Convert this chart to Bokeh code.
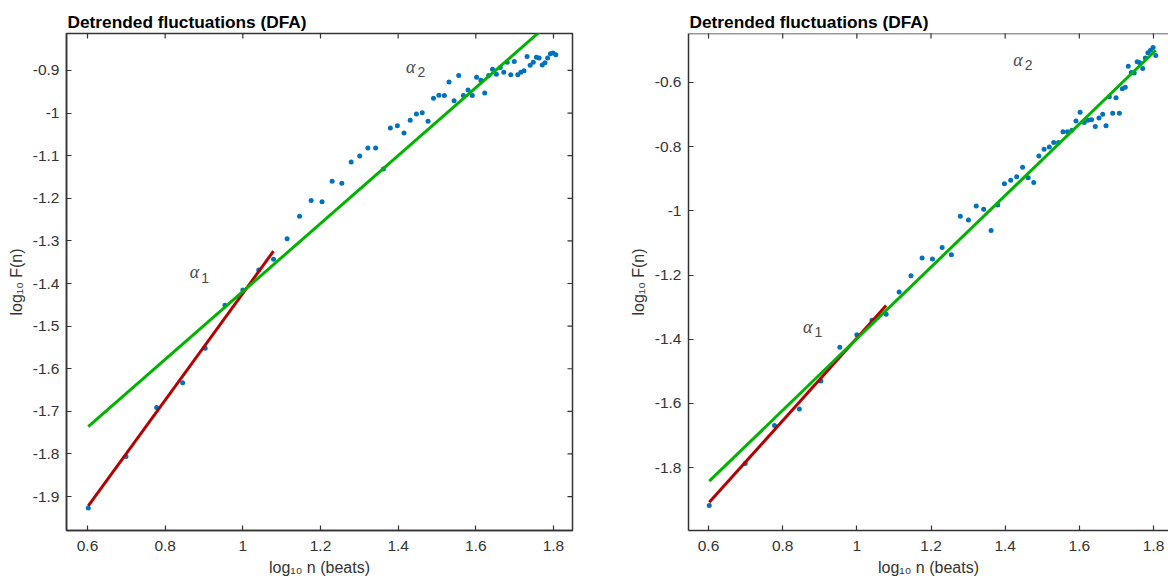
import numpy as np
from bokeh.plotting import figure
from bokeh.layouts import row
from bokeh.models import ColumnDataSource, LinearAxis, FixedTicker, Range1d, Span
from bokeh.core.properties import value
from bokeh.embed import file_html
from bokeh.resources import INLINE

# ---------------- data ----------------
log_n = [0.602, 0.699, 0.778, 0.845, 0.903, 0.954, 1.000, 1.041, 1.079, 1.114,
         1.146, 1.176, 1.204, 1.230, 1.255, 1.279, 1.301, 1.322, 1.342, 1.362,
         1.380, 1.398, 1.415, 1.431, 1.447, 1.462, 1.477, 1.491, 1.505, 1.519,
         1.531, 1.544, 1.556, 1.568, 1.580, 1.591, 1.602, 1.613, 1.623, 1.633,
         1.643, 1.653, 1.663, 1.672, 1.681, 1.690, 1.699, 1.708, 1.716, 1.724,
         1.732, 1.740, 1.748, 1.756, 1.763, 1.771, 1.778, 1.785, 1.792, 1.799,
         1.806]

left_logF = [-1.927, -1.806, -1.691, -1.633, -1.552, -1.451, -1.415, -1.368, -1.343, -1.295,
             -1.242, -1.205, -1.208, -1.160, -1.165, -1.115, -1.101, -1.082, -1.082, -1.131,
             -1.035, -1.030, -1.047, -1.017, -1.002, -0.999, -1.019, -0.965, -0.958, -0.959,
             -0.927, -0.971, -0.912, -0.959, -0.946, -0.959, -0.916, -0.923, -0.953, -0.912,
             -0.897, -0.909, -0.893, -0.904, -0.881, -0.910, -0.879, -0.910, -0.904, -0.901,
             -0.867, -0.888, -0.881, -0.869, -0.871, -0.887, -0.882, -0.871, -0.861, -0.859,
             -0.863]

right_logF = [-1.918, -1.787, -1.669, -1.617, -1.530, -1.425, -1.386, -1.341, -1.322, -1.253,
              -1.202, -1.147, -1.150, -1.114, -1.137, -1.017, -1.029, -0.985, -0.995, -1.061,
              -0.982, -0.916, -0.905, -0.894, -0.864, -0.897, -0.912, -0.829, -0.808, -0.801,
              -0.787, -0.787, -0.754, -0.754, -0.749, -0.720, -0.693, -0.725, -0.718, -0.716,
              -0.737, -0.711, -0.699, -0.735, -0.645, -0.696, -0.648, -0.696, -0.620, -0.615,
              -0.550, -0.569, -0.571, -0.536, -0.539, -0.557, -0.524, -0.508, -0.500, -0.491,
              -0.516]

# fitted lines (end points)
left_fit1_x = [0.602, 1.079]
left_fit1_y = [-1.922, -1.324]
left_fit2_x = [0.602, 1.806]
left_fit2_y = [-1.736, -0.776]
right_fit1_x = [0.602, 1.079]
right_fit1_y = [-1.908, -1.295]
right_fit2_x = [0.602, 1.806]
right_fit2_y = [-1.842, -0.500]

# alpha annotations
alpha_text = ["\u03b1", "\u03b1"]
alpha_sub = ["1", "2"]
left_alpha_x = [0.863, 1.420]
left_alpha_y = [-1.374, -0.891]
left_sub_x = [0.893, 1.450]
left_sub_y = [-1.388, -0.904]
right_alpha_x = [0.855, 1.422]
right_alpha_y = [-1.361, -0.529]
right_sub_x = [0.886, 1.453]
right_sub_y = [-1.376, -0.547]

# ticks
x_ticks = [0.6, 0.8, 1.0, 1.2, 1.4, 1.6, 1.8]
x_tick_labels = ["0.6", "0.8", "1", "1.2", "1.4", "1.6", "1.8"]
left_y_ticks = [-1.9, -1.8, -1.7, -1.6, -1.5, -1.4, -1.3, -1.2, -1.1, -1.0, -0.9]
left_y_tick_labels = ["-1.9", "-1.8", "-1.7", "-1.6", "-1.5", "-1.4", "-1.3", "-1.2", "-1.1", "-1", "-0.9"]
right_y_ticks = [-1.8, -1.6, -1.4, -1.2, -1.0, -0.8, -0.6]
right_y_tick_labels = ["-1.8", "-1.6", "-1.4", "-1.2", "-1", "-0.8", "-0.6"]

title_text = "Detrended fluctuations (DFA)"
x_label = "log\u2081\u2080 n (beats)"
y_label = "log\u2081\u2080 F(n)"

# axis limits
left_xlim = (0.5459, 1.849)
left_ylim = (-1.9796, -0.8133)
right_xlim = (0.546, 1.8405)
right_ylim = (-1.9958, -0.4477)

# ---------------- styling ----------------
AX = "#333333"
FONT = "Liberation Sans"
DOT = "#0072BD"
RED = "#B30000"
GREEN = "#00B300"


def style_axis(ax, ticks, labels, axis_label, standoff):
    ax.ticker = FixedTicker(ticks=ticks)
    ax.major_label_overrides = {t: l for t, l in zip(ticks, labels)}
    ax.major_tick_in = 5
    ax.major_tick_out = 0
    ax.minor_tick_line_color = None
    ax.axis_line_color = AX
    ax.axis_line_width = 1.5
    ax.major_tick_line_color = AX
    ax.major_tick_line_width = 1.2
    ax.major_label_text_font = FONT
    ax.major_label_text_color = AX
    ax.major_label_text_font_size = "15.5px"
    ax.major_label_standoff = standoff
    ax.axis_label = axis_label
    ax.axis_label_text_font = FONT
    ax.axis_label_text_font_size = "16px"
    ax.axis_label_text_font_style = "normal"
    ax.axis_label_text_color = AX
    ax.axis_label_standoff = 5


def make_panel(width, border_left, border_right, xr, yr, y_ticks, y_tick_labels,
               logF, fit1_x, fit1_y, fit2_x, fit2_y,
               ax_x, ax_y, sb_x, sb_y, full_box):
    p = figure(width=width, height=578, output_backend="svg", toolbar_location=None,
               x_range=Range1d(*xr), y_range=Range1d(*yr),
               min_border_left=border_left, min_border_right=border_right,
               min_border_top=33, min_border_bottom=47,
               x_axis_type=None, y_axis_type=None)
    p.grid.visible = False
    p.background_fill_color = "white"
    p.border_fill_color = "white"
    if full_box:
        p.outline_line_color = AX
        p.outline_line_width = 1.5
    else:
        p.outline_line_color = None
        p.add_layout(Span(location=yr[1], dimension="width",
                          line_color=AX, line_width=1.5))

    p.title.text = title_text
    p.title.text_font = FONT
    p.title.text_font_size = "17.3px"
    p.title.text_font_style = "bold"
    p.title.text_color = "black"
    p.title.align = "left"
    p.title.offset = 1
    p.title.standoff = 3

    bottom = LinearAxis()
    style_axis(bottom, x_ticks, x_tick_labels, x_label, 10)
    p.add_layout(bottom, "below")
    left = LinearAxis()
    style_axis(left, y_ticks, y_tick_labels, y_label, 7)
    p.add_layout(left, "left")

    # mirrored inward ticks on the top (and right) edge
    top_src = ColumnDataSource(dict(x=x_ticks, y=[yr[1]] * len(x_ticks)))
    p.scatter("x", "y", source=top_src, marker="dash", size=10, angle=np.pi / 2,
              line_color=AX, line_width=1.2)
    if full_box:
        right_src = ColumnDataSource(dict(x=[xr[1]] * len(y_ticks), y=y_ticks))
        p.scatter("x", "y", source=right_src, marker="dash", size=10,
                  line_color=AX, line_width=1.2)

    src = ColumnDataSource(dict(x=log_n, y=logF))
    p.scatter("x", "y", source=src, size=5, fill_color=DOT, line_color=None)
    p.line(fit1_x, fit1_y, line_color=RED, line_width=3)
    p.line(fit2_x, fit2_y, line_color=GREEN, line_width=3)

    asrc = ColumnDataSource(dict(x=ax_x, y=ax_y, t=alpha_text))
    p.text("x", "y", text="t", source=asrc, text_font=value("Liberation Serif"),
           text_font_style="italic", text_font_size="18px", text_color="#4a4a4a",
           text_align="left", text_baseline="middle")
    ssrc = ColumnDataSource(dict(x=sb_x, y=sb_y, t=alpha_sub))
    p.text("x", "y", text="t", source=ssrc, text_font=value(FONT),
           text_font_size="14px", text_color="#4a4a4a",
           text_align="left", text_baseline="middle")
    return p


p1 = make_panel(622, 66, 50, left_xlim, left_ylim,
                left_y_ticks, left_y_tick_labels, left_logF,
                left_fit1_x, left_fit1_y, left_fit2_x, left_fit2_y,
                left_alpha_x, left_alpha_y, left_sub_x, left_sub_y, True)
p2 = make_panel(546, 66, 0, right_xlim, right_ylim,
                right_y_ticks, right_y_tick_labels, right_logF,
                right_fit1_x, right_fit1_y, right_fit2_x, right_fit2_y,
                right_alpha_x, right_alpha_y, right_sub_x, right_sub_y, False)

layout = row(p1, p2)
open("out.html", "w").write(file_html(layout, INLINE))
